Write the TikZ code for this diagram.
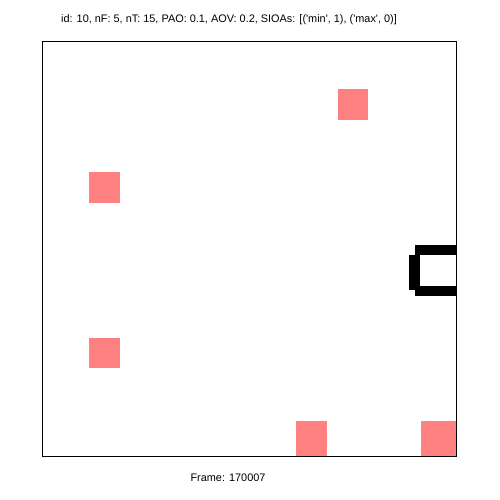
\documentclass[tikz,border=0pt]{standalone}
\usepackage{fontspec}
\newfontfamily\lib{Liberation Sans}
\definecolor{pinkish}{RGB}{255,128,128}
\begin{document}
\begin{tikzpicture}[x=1pt,y=-1pt,
  obj/.style={fill=pinkish,draw=none},
  agent/.style={fill=black,draw=none},
  lbl/.style={font=\lib\fontsize{10.9}{13}\selectfont,inner sep=0pt}]
\useasboundingbox[fill=white] (0,0) rectangle (500,500);
% objects
\fill[obj] (338,89) rectangle (368,120);
\fill[obj] (89,172) rectangle (120,203);
\fill[obj] (89,338) rectangle (120,368);
\fill[obj] (296,421) rectangle (327,456);
\fill[obj] (421,421) rectangle (456,456);
% agent
\fill[agent] (415,245) rectangle (456,255);
\fill[agent] (409,255) rectangle (420,290);
\fill[agent] (415,286) rectangle (456,296);
% frame
\draw[line width=1pt] (42,42) rectangle (456,456);
\node[lbl] (title) at (229,20) {id: 10, nF: 5, nT: 15, PAO: 0.1, AOV: 0.2, SIOAs: [(\textquotesingle min\textquotesingle, 1), (\textquotesingle max\textquotesingle, 0)]};
\node[lbl] (frame) at (228,478) {Frame: 170007};
\end{tikzpicture}
\end{document}
